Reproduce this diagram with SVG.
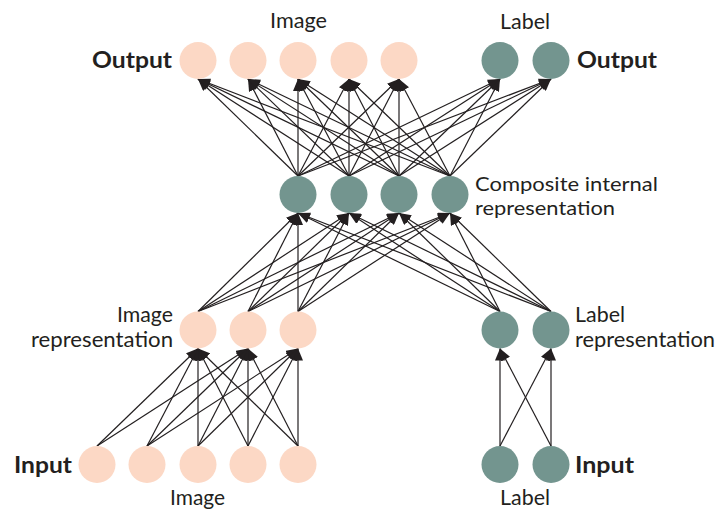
<svg xmlns="http://www.w3.org/2000/svg" width="719" height="512" viewBox="0 0 719 512">
<style>
.peach{fill:#FCD8C5}
.teal{fill:#73958F}
.t{font-family:Lato,"Open Sans",sans-serif;font-size:21px;fill:#231F20}
.b{font-family:Lato,"Open Sans",sans-serif;font-size:23px;font-weight:bold;fill:#231F20}
.s{font-size:20px}
#connectors line{stroke:#231F20;stroke-width:1.2;marker-end:url(#ah)}
</style>
<defs>
<marker id="ah" viewBox="0 0 12 10" refX="12" refY="5" markerWidth="12" markerHeight="10" markerUnits="userSpaceOnUse" orient="auto">
<path d="M0,0 L12,5 L0,10 z" fill="#231F20"/>
</marker>
</defs>
<g id="connectors">
<line x1="298" y1="176" x2="198" y2="79"/><line x1="298" y1="176" x2="248" y2="79"/><line x1="298" y1="176" x2="298" y2="79"/><line x1="298" y1="176" x2="349" y2="79"/><line x1="298" y1="176" x2="399" y2="79"/><line x1="298" y1="176" x2="500" y2="79"/><line x1="298" y1="176" x2="551" y2="79"/>
<line x1="349" y1="176" x2="198" y2="79"/><line x1="349" y1="176" x2="248" y2="79"/><line x1="349" y1="176" x2="298" y2="79"/><line x1="349" y1="176" x2="349" y2="79"/><line x1="349" y1="176" x2="399" y2="79"/><line x1="349" y1="176" x2="500" y2="79"/><line x1="349" y1="176" x2="551" y2="79"/>
<line x1="399" y1="176" x2="198" y2="79"/><line x1="399" y1="176" x2="248" y2="79"/><line x1="399" y1="176" x2="298" y2="79"/><line x1="399" y1="176" x2="349" y2="79"/><line x1="399" y1="176" x2="399" y2="79"/><line x1="399" y1="176" x2="500" y2="79"/><line x1="399" y1="176" x2="551" y2="79"/>
<line x1="450" y1="176" x2="198" y2="79"/><line x1="450" y1="176" x2="248" y2="79"/><line x1="450" y1="176" x2="298" y2="79"/><line x1="450" y1="176" x2="349" y2="79"/><line x1="450" y1="176" x2="399" y2="79"/><line x1="450" y1="176" x2="500" y2="79"/><line x1="450" y1="176" x2="551" y2="79"/>
<line x1="198" y1="311.5" x2="298" y2="213"/><line x1="198" y1="311.5" x2="349" y2="213"/><line x1="198" y1="311.5" x2="399" y2="213"/><line x1="198" y1="311.5" x2="450" y2="213"/>
<line x1="248" y1="311.5" x2="298" y2="213"/><line x1="248" y1="311.5" x2="349" y2="213"/><line x1="248" y1="311.5" x2="399" y2="213"/><line x1="248" y1="311.5" x2="450" y2="213"/>
<line x1="298" y1="311.5" x2="298" y2="213"/><line x1="298" y1="311.5" x2="349" y2="213"/><line x1="298" y1="311.5" x2="399" y2="213"/><line x1="298" y1="311.5" x2="450" y2="213"/>
<line x1="500" y1="311.5" x2="298" y2="213"/><line x1="500" y1="311.5" x2="349" y2="213"/><line x1="500" y1="311.5" x2="399" y2="213"/><line x1="500" y1="311.5" x2="450" y2="213"/>
<line x1="551" y1="311.5" x2="298" y2="213"/><line x1="551" y1="311.5" x2="349" y2="213"/><line x1="551" y1="311.5" x2="399" y2="213"/><line x1="551" y1="311.5" x2="450" y2="213"/>
<line x1="97" y1="446" x2="198" y2="348.5"/><line x1="97" y1="446" x2="248" y2="348.5"/>
<line x1="147" y1="446" x2="198" y2="348.5"/><line x1="147" y1="446" x2="248" y2="348.5"/><line x1="147" y1="446" x2="298" y2="348.5"/>
<line x1="198" y1="446" x2="198" y2="348.5"/><line x1="198" y1="446" x2="248" y2="348.5"/><line x1="198" y1="446" x2="298" y2="348.5"/>
<line x1="248" y1="446" x2="198" y2="348.5"/><line x1="248" y1="446" x2="248" y2="348.5"/><line x1="248" y1="446" x2="298" y2="348.5"/>
<line x1="298" y1="446" x2="198" y2="348.5"/><line x1="298" y1="446" x2="248" y2="348.5"/><line x1="298" y1="446" x2="298" y2="348.5"/>
<line x1="500" y1="446" x2="500" y2="348.5"/><line x1="500" y1="446" x2="551" y2="348.5"/>
<line x1="551" y1="446" x2="500" y2="348.5"/><line x1="551" y1="446" x2="551" y2="348.5"/>
</g>
<g id="output-image">
<circle class="peach" cx="198" cy="60.5" r="18.5"/><circle class="peach" cx="248" cy="60.5" r="18.5"/><circle class="peach" cx="298" cy="60.5" r="18.5"/><circle class="peach" cx="349" cy="60.5" r="18.5"/><circle class="peach" cx="399" cy="60.5" r="18.5"/>
</g>
<g id="output-label">
<circle class="teal" cx="500" cy="60.5" r="18.5"/><circle class="teal" cx="551" cy="60.5" r="18.5"/>
</g>
<g id="composite">
<circle class="teal" cx="298" cy="194.5" r="18.5"/><circle class="teal" cx="349" cy="194.5" r="18.5"/><circle class="teal" cx="399" cy="194.5" r="18.5"/><circle class="teal" cx="450" cy="194.5" r="18.5"/>
</g>
<g id="image-representation">
<circle class="peach" cx="198" cy="330" r="18.5"/><circle class="peach" cx="248" cy="330" r="18.5"/><circle class="peach" cx="298" cy="330" r="18.5"/>
</g>
<g id="label-representation">
<circle class="teal" cx="500" cy="330" r="18.5"/><circle class="teal" cx="551" cy="330" r="18.5"/>
</g>
<g id="input-image">
<circle class="peach" cx="97" cy="464.5" r="18.5"/><circle class="peach" cx="147" cy="464.5" r="18.5"/><circle class="peach" cx="198" cy="464.5" r="18.5"/><circle class="peach" cx="248" cy="464.5" r="18.5"/><circle class="peach" cx="298" cy="464.5" r="18.5"/>
</g>
<g id="input-label">
<circle class="teal" cx="500" cy="464.5" r="18.5"/><circle class="teal" cx="551" cy="464.5" r="18.5"/>
</g>
<g id="labels">
<text class="t" x="270" y="28" textLength="57" lengthAdjust="spacingAndGlyphs">Image</text>
<text class="t" x="500" y="29" textLength="50" lengthAdjust="spacingAndGlyphs">Label</text>
<text class="b" x="92" y="68" textLength="80" lengthAdjust="spacingAndGlyphs">Output</text>
<text class="b" x="577" y="68" textLength="80" lengthAdjust="spacingAndGlyphs">Output</text>
<text class="t s" x="475" y="191" textLength="183" lengthAdjust="spacingAndGlyphs">Composite internal</text>
<text class="t s" x="475" y="215" textLength="140" lengthAdjust="spacingAndGlyphs">representation</text>
<text class="t" x="117" y="322" textLength="56" lengthAdjust="spacingAndGlyphs">Image</text>
<text class="t" x="31" y="347" textLength="142" lengthAdjust="spacingAndGlyphs">representation</text>
<text class="t" x="575" y="322" textLength="50" lengthAdjust="spacingAndGlyphs">Label</text>
<text class="t" x="575" y="347" textLength="140" lengthAdjust="spacingAndGlyphs">representation</text>
<text class="b" x="14" y="473" textLength="58" lengthAdjust="spacingAndGlyphs">Input</text>
<text class="b" x="575" y="473" textLength="59" lengthAdjust="spacingAndGlyphs">Input</text>
<text class="t" x="170" y="505" textLength="55" lengthAdjust="spacingAndGlyphs">Image</text>
<text class="t" x="500" y="505" textLength="50" lengthAdjust="spacingAndGlyphs">Label</text>
</g>
</svg>
